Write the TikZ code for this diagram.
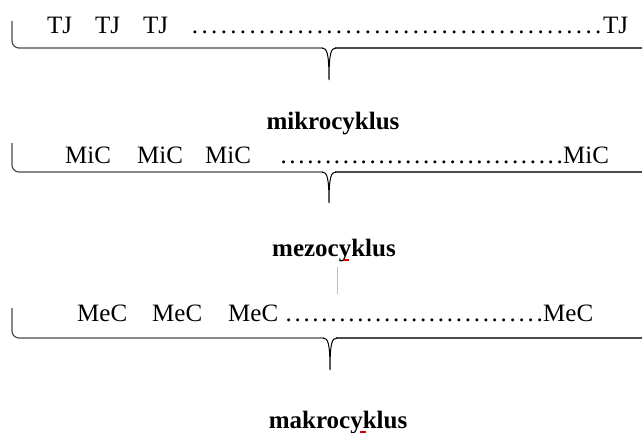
\documentclass[tikz,border=0pt]{standalone}
\usepackage{fontspec}
\setmainfont{Liberation Serif}
\newcommand\dotrun[2]{\makebox[#1pt][l]{\xleaders\hbox to #2pt{\hss.\hss}\hfill}}
\begin{document}
\begin{tikzpicture}[x=1pt,y=-1pt,
  item/.style={anchor=base west,inner sep=0pt,font=\fontsize{25}{30}\selectfont},
  title/.style={anchor=base,inner sep=0pt,font=\fontsize{25}{30}\selectfont\bfseries},
  brace/.style={draw=black!70,line width=1.2pt},
  cusp/.style={draw=black,line width=1pt},
  squiggle/.style={draw=red!85!black,line width=1.6pt}]
\useasboundingbox (0,0) rectangle (642,433);

% row of training units
\node[item] (tj1) at (47,34) {TJ};
\node[item] (tj2) at (95,34) {TJ};
\node[item] (tj3) at (143,34) {TJ};
\node[item] (tjd) at (190,34) {\dotrun{413}{9.4}};
\node[item] (tjn) at (603,34) {TJ};

% brace under the training units
\draw[brace] (12,21) -- (12,41) to[out=-90,in=180] (19,48) -- (323,48);
\draw[brace] (335,48) -- (645,48);
\draw[cusp] (322,48) .. controls (327,48) and (329,53) .. (329,80)
            .. controls (329,53) and (331,48) .. (336,48);

\node[title] (mik) at (333,130) {mikrocyklus};

% row of microcycles
\node[item] (mi1) at (65,163) {MiC};
\node[item] (mi2) at (137,163) {MiC};
\node[item] (mi3) at (205,163) {MiC};
\node[item] (mid) at (279,163) {\dotrun{285}{8.8}};
\node[item] (min) at (563,163) {MiC};

\draw[brace] (12,143) -- (12,165) to[out=-90,in=180] (19,172) -- (323,172);
\draw[brace] (335,172) -- (645,172);
\draw[cusp] (322,172) .. controls (327,172) and (329,177) .. (329,203)
            .. controls (329,177) and (331,172) .. (336,172);

\node[title] (mez) at (334,256) {mezocyklus};
\draw[squiggle] (343,260) -- (349,260);
\draw[black!25,line width=0.6pt] (337,267) -- (337,294);

% row of mesocycles
\node[item] (me1) at (77,321) {MeC};
\node[item] (me2) at (152,321) {MeC};
\node[item] (me3) at (228,321) {MeC};
\node[item] (med) at (284,321) {\dotrun{260}{8.9}};
\node[item] (men) at (543,321) {MeC};

\draw[brace] (12,308) -- (12,331) to[out=-90,in=180] (19,338) -- (324,338);
\draw[brace] (336,338) -- (645,338);
\draw[cusp] (323,338) .. controls (328,338) and (330,343) .. (330,370)
            .. controls (330,343) and (332,338) .. (337,338);

\node[title] (mak) at (338,428) {makrocyklus};
\draw[squiggle] (360,432) -- (366,432);
\end{tikzpicture}
\end{document}
